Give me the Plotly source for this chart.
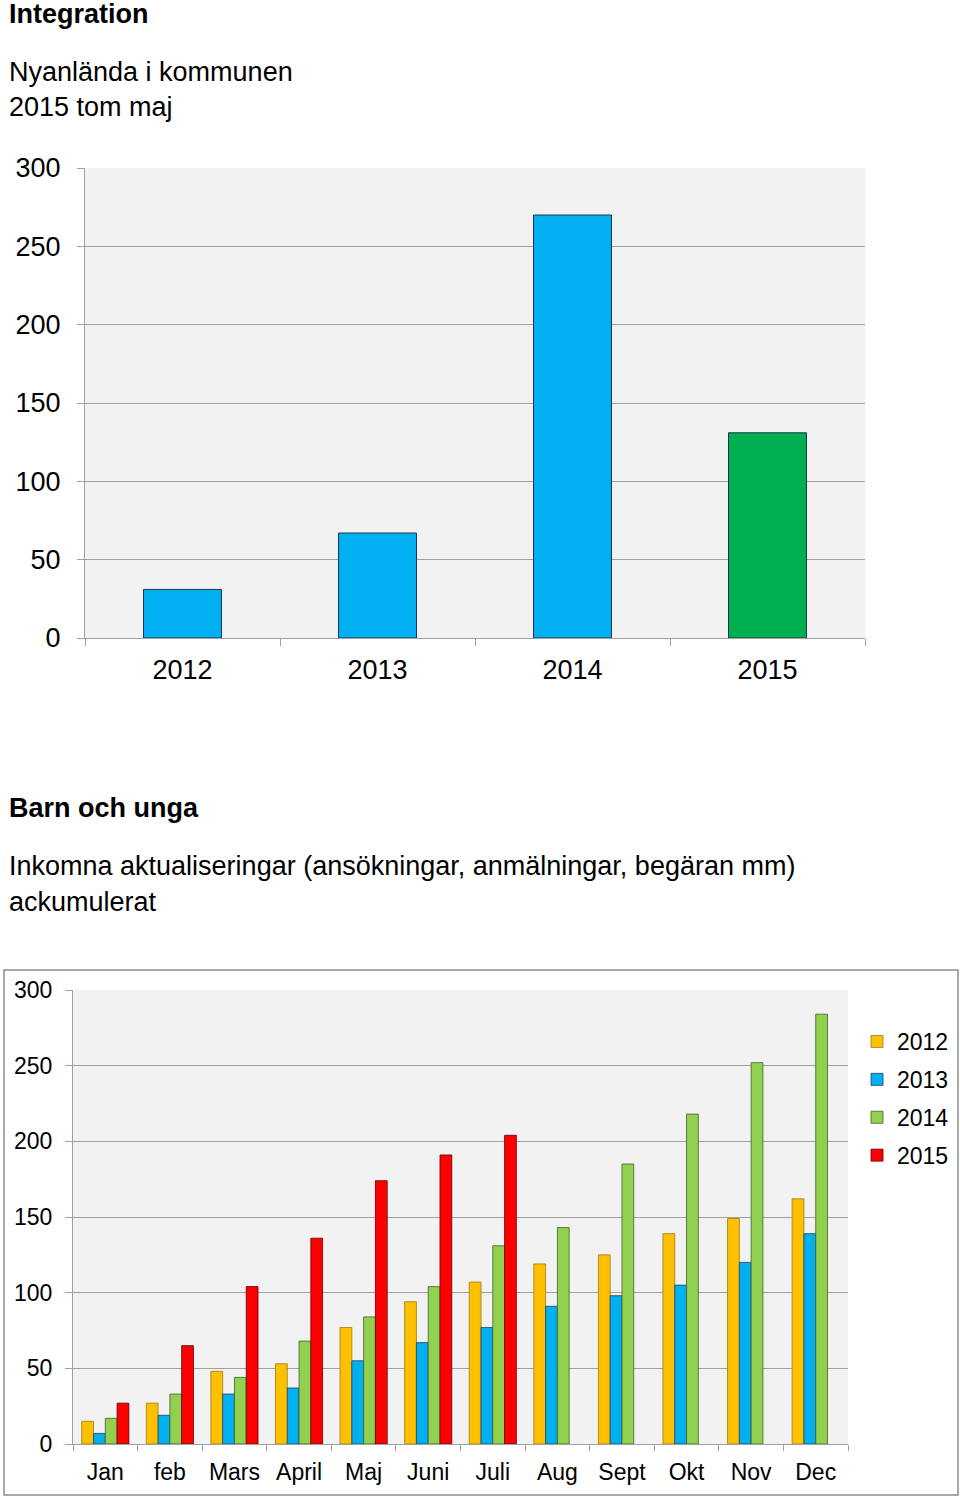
import plotly.graph_objects as go

# ---- data: top chart ----
years_top = ["2012", "2013", "2014", "2015"]
nyanlanda = [31, 67, 270, 131]
top_colors = ["#00B0F0", "#00B0F0", "#00B0F0", "#00B050"]

# ---- data: bottom chart ----
months = ["Jan", "feb", "Mars", "April", "Maj", "Juni", "Juli", "Aug", "Sept", "Okt", "Nov", "Dec"]
y2012 = [15, 27, 48, 53, 77, 94, 107, 119, 125, 139, 149, 162]
y2013 = [7, 19, 33, 37, 55, 67, 77, 91, 98, 105, 120, 139]
y2014 = [17, 33, 44, 68, 84, 104, 131, 143, 185, 218, 252, 284]
y2015 = [27, 65, 104, 136, 174, 191, 204]
series_names = ["2012", "2013", "2014", "2015"]
series_colors = ["#FFC000", "#00B0F0", "#92D050", "#FF0000"]
series_lines = ["#9C7A10", "#1F3F5F", "#3F5F2A", "#600000"]

W, H = 960, 1497
FONT = "Liberation Sans, Arial, sans-serif"

def px(v):
    return 1 - v / H

fig = go.Figure()

fig.add_trace(go.Bar(
    x=years_top, y=nyanlanda, width=0.4,
    marker=dict(color=top_colors, line=dict(color="#1F3550", width=1)),
    showlegend=False, xaxis="x", yaxis="y",
))

for name, vals, col, lc in zip(series_names, [y2012, y2013, y2014, y2015], series_colors, series_lines):
    fig.add_trace(go.Bar(
        x=months[:len(vals)], y=vals, name=name, legendgroup=name,
        marker=dict(color=col, line=dict(color=lc, width=0.8)),
        xaxis="x2", yaxis="y2",
    ))

grid = "#A0A0A0"

fig.update_layout(
    width=W, height=H,
    margin=dict(l=0, r=0, t=0, b=0, autoexpand=False),
    paper_bgcolor="white",
    plot_bgcolor="#F2F2F2",
    font=dict(family=FONT, color="black"),
    barmode="group", bargap=0.27, bargroupgap=0,
    xaxis=dict(domain=[85 / W, 865 / W], anchor="y", type="category",
               range=[-0.5, 3.5], showline=True, linecolor=grid, linewidth=1,
               ticks="outside", tickson="boundaries", ticklen=7, tickcolor=grid,
               tickfont=dict(size=27), ticklabelstandoff=8, showgrid=False, zeroline=False,
               fixedrange=True),
    yaxis=dict(domain=[px(638), px(168)], anchor="x", range=[0, 300],
               tickvals=[0, 50, 100, 150, 200, 250, 300],
               showgrid=True, gridcolor=grid, gridwidth=1,
               showline=True, linecolor=grid, linewidth=1,
               ticks="outside", ticklen=7, tickcolor=grid,
               tickfont=dict(size=27), ticklabelstandoff=11, zeroline=False,
               fixedrange=True),
    xaxis2=dict(domain=[73 / W, 848 / W], anchor="y2", type="category",
                range=[-0.5, 11.5], showline=True, linecolor=grid, linewidth=1,
                ticks="outside", tickson="boundaries", ticklen=6, tickcolor=grid,
                tickfont=dict(size=23), ticklabelstandoff=7, showgrid=False, zeroline=False,
                fixedrange=True),
    yaxis2=dict(domain=[px(1444), px(990)], anchor="x2", range=[0, 300],
                tickvals=[0, 50, 100, 150, 200, 250, 300],
                showgrid=True, gridcolor=grid, gridwidth=1,
                showline=True, linecolor=grid, linewidth=1,
                ticks="outside", ticklen=7, tickcolor=grid,
                tickfont=dict(size=23), ticklabelstandoff=8, zeroline=False,
                fixedrange=True),
    legend=dict(x=857 / W, xanchor="left", y=px(1020), yanchor="top",
                font=dict(size=23), tracegroupgap=5, bgcolor="rgba(0,0,0,0)",
                itemclick=False, itemdoubleclick=False),
    showlegend=True,
)

texts = [
    ("<b>Integration</b>", 14),
    ("Nyanlända i kommunen", 72),
    ("2015 tom maj", 107),
    ("<b>Barn och unga</b>", 808),
    ("Inkomna aktualiseringar (ansökningar, anmälningar, begäran mm)", 866),
    ("ackumulerat", 902),
]
for t, yy in texts:
    fig.add_annotation(text=t, x=7 / W, y=px(yy), xref="paper", yref="paper",
                       xanchor="left", yanchor="middle", showarrow=False,
                       font=dict(size=27, family=FONT, color="black"))

fig.add_shape(type="rect", xref="paper", yref="paper",
              x0=4 / W, x1=958 / W, y0=px(1495), y1=px(970),
              line=dict(color="#8C8C8C", width=1.5), fillcolor="rgba(0,0,0,0)", layer="below")

fig.write_html("out.html", config={"displayModeBar": False},
               post_script="document.body.style.margin='0';")
